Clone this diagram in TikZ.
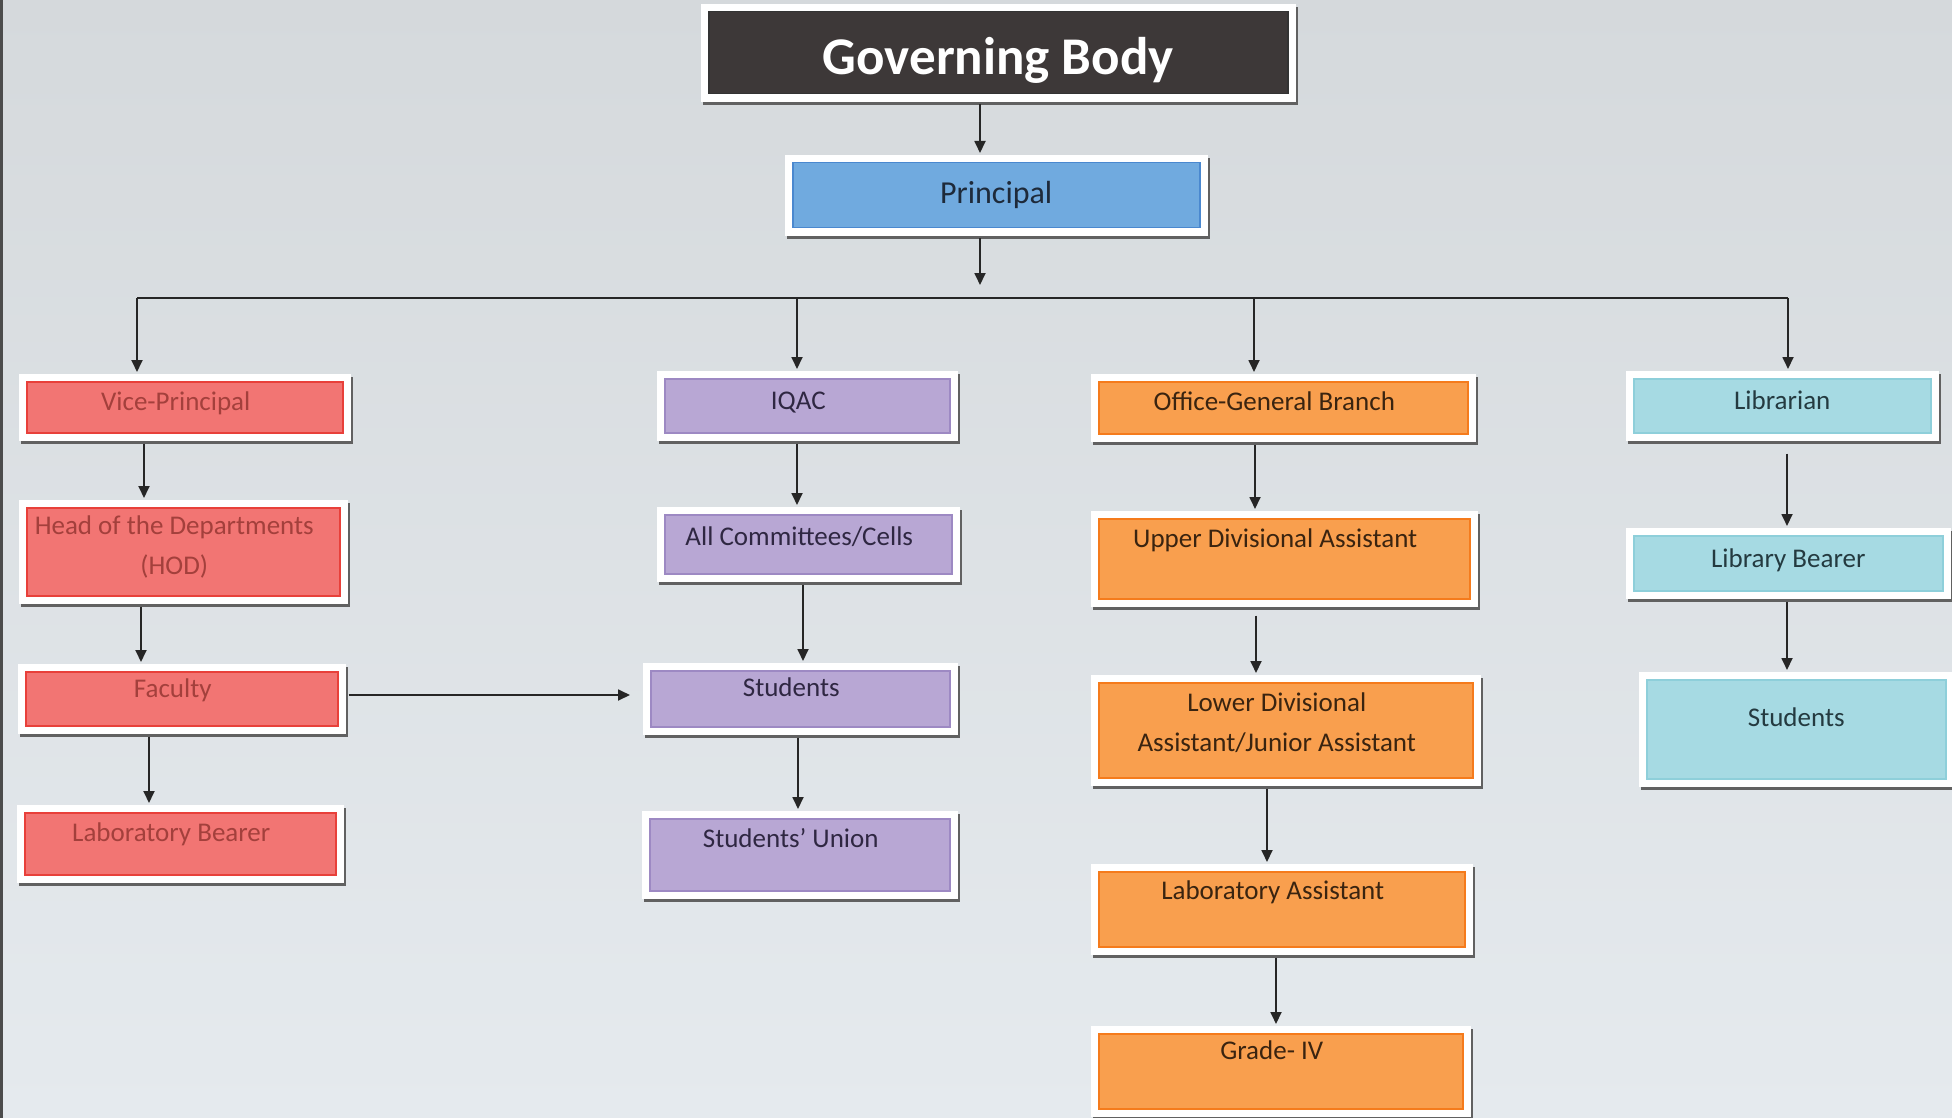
\documentclass[tikz,border=0pt]{standalone}
\usepackage{fontspec}
\setmainfont{Carlito}
\usetikzlibrary{arrows.meta}
\definecolor{bgtop}{HTML}{D5D9DC}
\definecolor{bgbot}{HTML}{E5EAEE}
\definecolor{gbfill}{HTML}{3D3838}
\definecolor{bluefill}{HTML}{70AADF}
\definecolor{blueline}{HTML}{4A88CF}
\definecolor{bluetext}{HTML}{1E2A3A}
\definecolor{redfill}{HTML}{F27573}
\definecolor{redline}{HTML}{E8403A}
\definecolor{redtext}{HTML}{A3403C}
\definecolor{purfill}{HTML}{B8A7D4}
\definecolor{purline}{HTML}{9D89C3}
\definecolor{purtext}{HTML}{2F2742}
\definecolor{orfill}{HTML}{F99F4E}
\definecolor{orline}{HTML}{F57B1C}
\definecolor{ortext}{HTML}{3A2410}
\definecolor{tealfill}{HTML}{A6DAE3}
\definecolor{tealline}{HTML}{8ECFDA}
\definecolor{tealtext}{HTML}{243A40}
\begin{document}
\begin{tikzpicture}[x=1pt,y=-1pt,
  frame/.style={preaction={draw=black!62, line width=16pt, transform canvas={xshift=2pt,yshift=-3pt}},
                preaction={draw=white, line width=16pt}},
  base/.style={frame, anchor=north west, inner sep=0pt, line width=1.5pt,
               font=\fontsize{27}{40}\selectfont},
  leftish/.style={execute at end node={\hspace*{18pt}}},
  one/.style n args={3}{minimum width=#1pt, minimum height=#2pt, text height=#3pt, text depth={#2pt-#3pt}},
  redbox/.style={base, leftish, fill=redfill, draw=redline, text=redtext},
  purbox/.style={base, leftish, fill=purfill, draw=purline, text=purtext},
  orbox/.style={base, leftish, fill=orfill, draw=orline, text=ortext},
  tealbox/.style={base, fill=tealfill, draw=tealline, text=tealtext},
  arr/.style={-{Triangle[length=12pt,width=11pt]}, line width=1.8pt, black!85, shorten <=10pt, shorten >=9pt},
  busline/.style={line width=1.8pt, black!85}
]
\useasboundingbox (0,0) rectangle (1952,1118);
\shade[top color=bgtop, bottom color=bgbot] (0,0) rectangle (1952,1118);
\fill[black!70] (0,0) rectangle (3,1118);

% top
\node[base, fill=gbfill, draw=black!80, text=white, one={579}{82}{63},
      font=\fontsize{53}{60}\selectfont\bfseries] (gb) at (708,11) {Governing Body};
\node[base, fill=bluefill, draw=blueline, text=bluetext, minimum width=407pt, minimum height=65pt,
      font=\fontsize{32}{38}\selectfont] (pr) at (792,162) {Principal};

% column 1
\node[redbox, one={316}{51}{29}] (vp) at (26,381) {Vice-Principal};
\node[redbox, one={313}{88}{27}] (hod) at (26,507) {\begin{tabular}[t]{@{}c@{}}Head of the Departments\\(HOD)\end{tabular}};
\node[redbox, one={312}{54}{26}] (fac) at (25,671) {Faculty};
\node[redbox, one={311}{62}{29}] (lb) at (24,812) {Laboratory Bearer};

% column 2
\node[purbox, one={285}{54}{31}] (iqac) at (664,378) {IQAC};
\node[purbox, one={287}{59}{31}] (com) at (664,514) {All Committees/Cells};
\node[purbox, one={299}{56}{26}] (stu) at (650,670) {Students};
\node[purbox, one={300}{72}{29}] (su) at (649,818) {Students’ Union};

% column 3
\node[orbox, one={369}{52}{29}] (ogb) at (1098,381) {Office-General Branch};
\node[orbox, one={371}{80}{29}] (uda) at (1098,518) {Upper Divisional Assistant};
\node[orbox, one={374}{95}{29}] (lda) at (1098,682) {\begin{tabular}[t]{@{}c@{}}Lower Divisional\\Assistant/Junior Assistant\end{tabular}};
\node[orbox, one={366}{75}{28}] (la) at (1098,871) {Laboratory Assistant};
\node[orbox, one={364}{75}{26}] (g4) at (1098,1033) {Grade- IV};

% column 4
\node[tealbox, one={297}{54}{31}] (lib) at (1633,378) {Librarian};
\node[tealbox, one={309}{55}{32}] (lbb) at (1633,535) {Library Bearer};
\node[tealbox, one={299}{99}{47}] (stu2) at (1646,679) {Students};

% bus
\coordinate (bus) at (980,298);
\coordinate (b1) at (137,298);
\coordinate (b2) at (797,298);
\coordinate (b3) at (1254,298);
\coordinate (b4) at (1788,298);

\draw[arr] (gb.south -| 980,0) -- (pr.north -| 980,0);
\draw[arr, shorten >=13pt] (pr.south -| bus) -- (bus);
\draw[busline] (b1) -- (b4);
\draw[arr, shorten <=0pt] (b1) -- (vp.north -| b1);
\draw[arr, shorten <=0pt] (b2) -- (iqac.north -| b2);
\draw[arr, shorten <=0pt] (b3) -- (ogb.north -| b3);
\draw[arr, shorten <=0pt] (b4) -- (lib.north -| b4);

% column 1 arrows
\draw[arr] (vp.south -| 144,0) -- (hod.north -| 144,0);
\draw[arr] (hod.south -| 141,0) -- (fac.north -| 141,0);
\draw[arr] (fac.south -| 149,0) -- (lb.north -| 149,0);
\draw[arr, shorten >=20pt] (fac.east |- 0,695) -- (stu.west |- 0,695);

% column 2 arrows
\draw[arr] (iqac.south -| 797,0) -- (com.north -| 797,0);
\draw[arr] (com.south -| 803,0) -- (stu.north -| 803,0);
\draw[arr] (stu.south -| 798,0) -- (su.north -| 798,0);

% column 3 arrows
\draw[arr] (ogb.south -| 1255,0) -- (uda.north -| 1255,0);
\draw[arr, shorten <=16pt] (uda.south -| 1256,0) -- (lda.north -| 1256,0);
\draw[arr] (lda.south -| 1267,0) -- (la.north -| 1267,0);
\draw[arr] (la.south -| 1276,0) -- (g4.north -| 1276,0);

% column 4 arrows
\draw[arr, shorten <=20pt] (lib.south -| 1787,0) -- (lbb.north -| 1787,0);
\draw[arr] (lbb.south -| 1787,0) -- (stu2.north -| 1787,0);
\end{tikzpicture}
\end{document}
